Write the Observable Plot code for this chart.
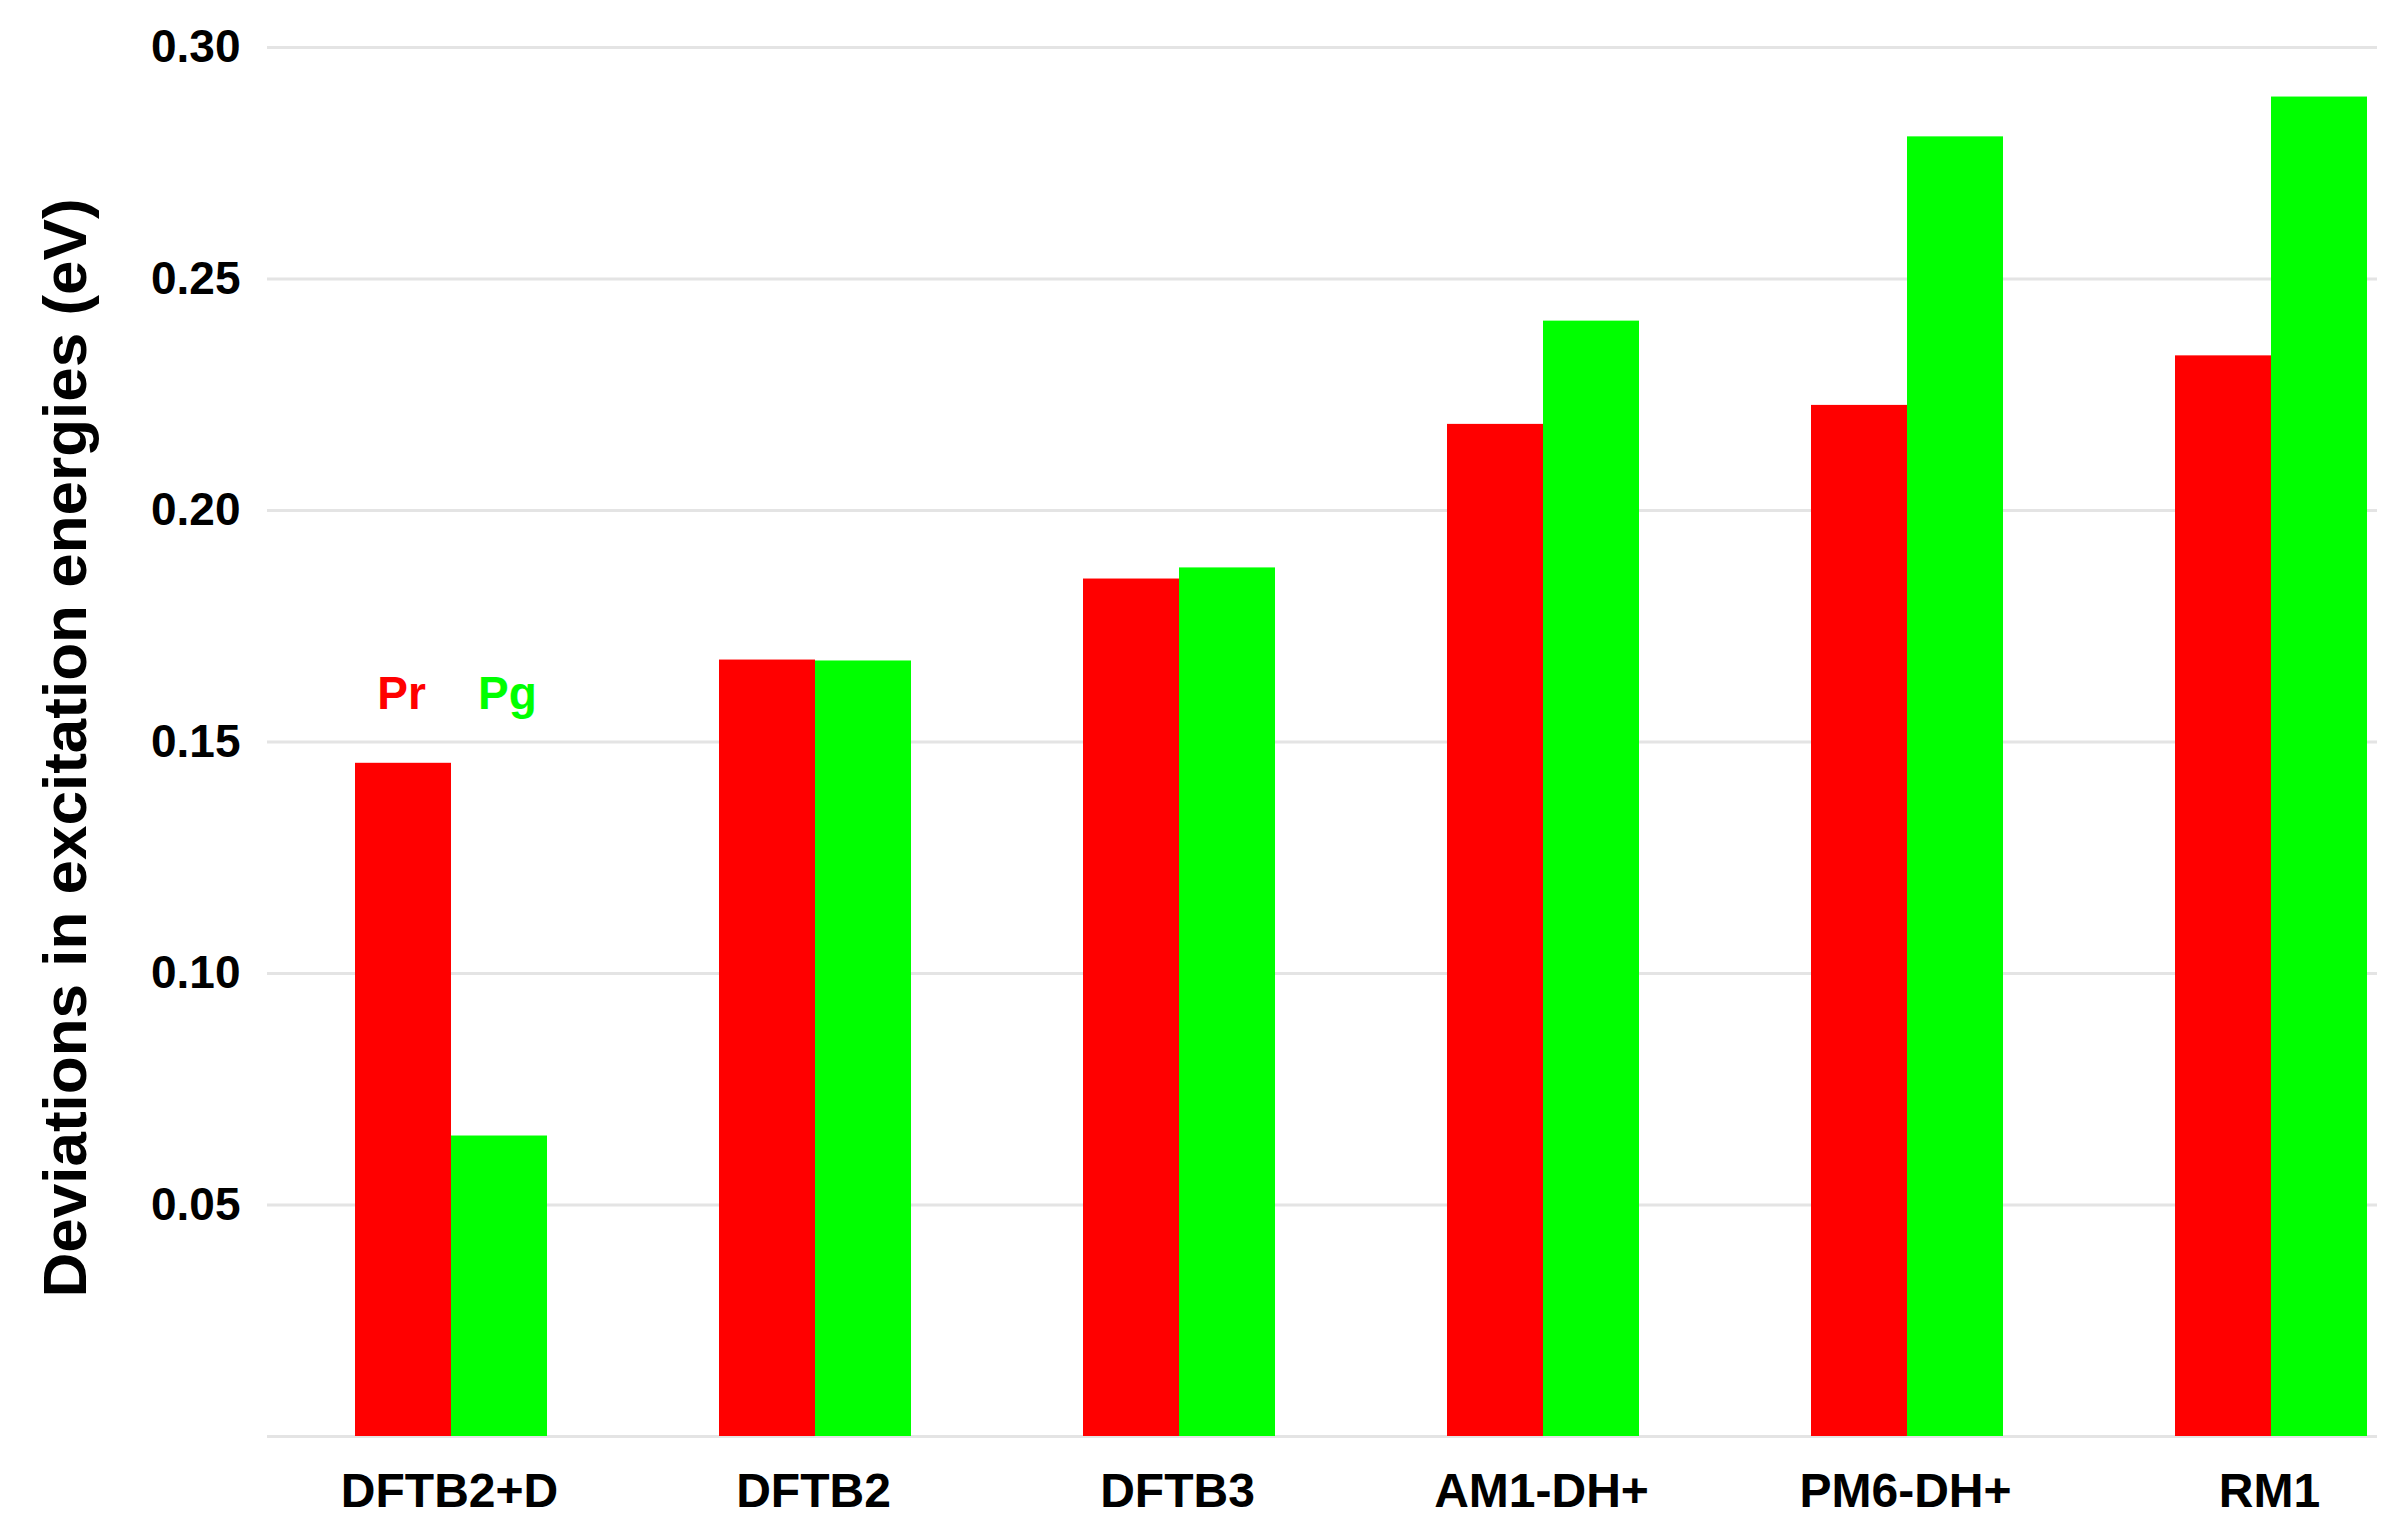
<!DOCTYPE html>
<html><head><meta charset="utf-8">
<script src="https://cdn.jsdelivr.net/npm/d3@7"></script>
<script src="https://cdn.jsdelivr.net/npm/@observablehq/plot@0.6"></script>
<style>html,body{margin:0;padding:0;background:#fff;} svg{display:block}</style>
</head><body><div id="chart"></div>
<script>
const methods = ["DFTB2+D", "DFTB2", "DFTB3", "AM1-DH+", "PM6-DH+", "RM1"];
const prValues = [0.1454, 0.1677, 0.1852, 0.2186, 0.2227, 0.2334];
const pgValues = [0.0649, 0.1675, 0.1876, 0.2409, 0.2807, 0.2893];
const seriesNames = ["Pr", "Pg"];
const seriesColors = ["#ff0000", "#00ff00"];
const yTicks = [0.05, 0.10, 0.15, 0.20, 0.25, 0.30];
const yLabel = "Deviations in excitation energies (eV)";
const legendMethod = "DFTB2+D";
const legendValue = 0.1604;

const rows = methods.map((m, i) => ({method: m, Pr: prValues[i], Pg: pgValues[i]}));
const legendRows = seriesNames.map((s, i) => ({method: legendMethod, value: legendValue, name: s, color: seriesColors[i]}));

const W = 2395, H = 1530;
const half = 96;

const chart = Plot.plot({
  width: W, height: H,
  marginLeft: 267, marginRight: 18, marginTop: 47, marginBottom: 94,
  style: {fontFamily: "'Liberation Sans', Arial, Helvetica, sans-serif", fontWeight: "bold", background: "#fff", color: "#000"},
  x: {domain: methods, paddingInner: 0.4735, paddingOuter: 0.1296, align: 0.896, label: null},
  y: {domain: [0, 0.3], label: null},
  marks: [
    Plot.ruleY([0, ...yTicks], {stroke: "#e4e4e4", strokeWidth: 3}),
    Plot.barY(rows, {x: "method", y: "Pr", fill: seriesColors[0], insetRight: half, insetLeft: 0}),
    Plot.barY(rows, {x: "method", y: "Pg", fill: seriesColors[1], insetLeft: half, insetRight: 0}),
    Plot.axisY({ticks: yTicks, tickFormat: d3.format(".2f"), tickSize: 0, tickPadding: 27, fontSize: 46, fontWeight: "bold", label: null}),
    Plot.axisX({tickSize: 0, tickPadding: 36, fontSize: 48, fontWeight: "bold", label: null, dx: -2}),
    Plot.text([yLabel], {frameAnchor: "left", textAnchor: "middle", rotate: -90, lineAnchor: "bottom", dx: -182, dy: 6, fontSize: 62, fontWeight: "bold", fill: "#000"}),
    Plot.text([legendRows[0]], {x: "method", y: "value", text: "name", fill: seriesColors[0], dx: -50, fontSize: 46, fontWeight: "bold"}),
    Plot.text([legendRows[1]], {x: "method", y: "value", text: "name", fill: seriesColors[1], dx: 56, fontSize: 46, fontWeight: "bold"})
  ]
});
document.getElementById("chart").appendChild(chart);
</script>
</body></html>
